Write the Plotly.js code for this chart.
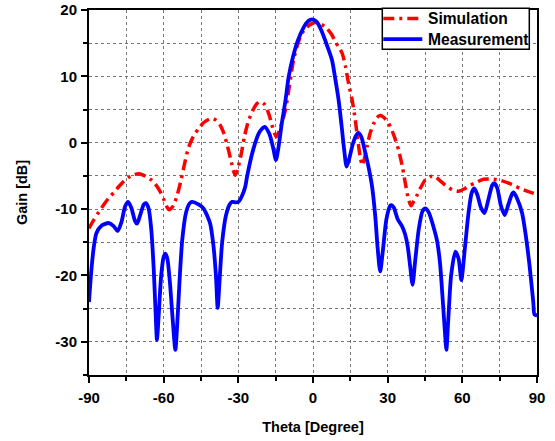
<!DOCTYPE html>
<html>
<head>
<meta charset="utf-8">
<script src="https://cdn.plot.ly/plotly-3.0.1.min.js"></script>
<style>html,body{margin:0;padding:0;background:#fff;}#chart{width:555px;height:441px;}</style>
</head>
<body>
<div id="chart"></div>
<script>
// Simulation (red dash-dot)
const simTheta = [-90,-88,-86,-84,-82,-80,-78,-76,-74,-72,-69.4,-67,-65,-63.4,-61.5,-60,-58.5,-57.8,-57,-56,-54.5,-53,-51.5,-50,-48,-46,-44,-42,-40.6,-39,-37.5,-36,-34.5,-33,-32,-31.2,-30.3,-29,-27.5,-26,-24,-22.5,-21.2,-19.5,-17.8,-16.2,-14.7,-13,-11.1,-9.5,-7.8,-6,-4.4,-2.5,0.9,3.5,5.6,7.5,9,10.5,11.7,13,14.3,15.7,17,18,19,19.8,20.6,21.7,23,24.4,25.7,27,28.5,30.4,32.5,34.4,36,37.1,38.3,39.4,40.5,41.8,43.5,45.1,47,49.1,51,53.2,56,58.5,61,63.2,66,68.5,72.6,75.5,78.6,81,83.3,86,88.4,90];
const simGain = [-12.9,-11.6,-10.4,-9.3,-8.3,-7.5,-6.6,-5.8,-5.2,-4.8,-4.7,-5.1,-5.6,-6.2,-7.3,-8.5,-9.8,-10.1,-9.9,-9.4,-7.8,-5.6,-3,-0.7,1.0,2.1,3.0,3.5,3.7,3.4,2.8,1.6,-0.3,-2.6,-4.2,-4.9,-4,-2,1.0,3.2,5.0,5.9,6.2,5.8,4.4,2.3,0.9,2.4,4.9,8.5,12.5,15,16.5,17.4,18.1,17.8,17.2,16.3,15.2,14.3,13.5,11.6,8.9,6.5,3.4,0.4,-2.2,-3.4,-2.5,-0.6,1.5,2.9,3.8,4.1,3.8,2.9,1.1,-1.1,-3.8,-6.1,-8.4,-9.5,-8.8,-7.9,-6.6,-5.6,-5.1,-5.1,-5.7,-6.4,-7.1,-7.3,-6.9,-6.4,-5.9,-5.5,-5.5,-5.7,-6.1,-6.5,-6.9,-7.3,-7.6,-7.8];

// Measurement (blue solid)
const measTheta = [-90,-89,-88,-87,-85,-82,-80,-78.5,-77,-75.5,-74.3,-73,-71.5,-70.7,-69.5,-68,-67.1,-66,-65,-64,-63.2,-62.7,-62,-61,-60,-59.3,-58.5,-57.5,-56.5,-55.3,-54.5,-53.5,-52.5,-51,-49.5,-48.6,-46,-44,-42.5,-41.3,-40,-39,-38.3,-37.5,-36.5,-35,-33.5,-32.5,-31,-29.9,-28.5,-27.2,-26.5,-24,-21.5,-19.4,-17.5,-16,-14.9,-14,-12.5,-11,-9.8,-8,-6,-4,-2,-0.4,1.5,3.5,5.5,7.6,9,10.3,11.5,12.5,13.5,14.5,16,17.3,18.3,19.5,21,22.5,23.7,25,26,27,28,29.5,31,31.5,32.5,34,35.8,37,38,39,40,41,42.5,44,45.1,46.5,48.5,49.8,51,52,53,53.6,54.3,55.5,57.2,58.5,59.6,61,62.5,63.8,64.8,66,67.5,68.9,70.5,72,72.8,74,75.5,77,78.5,80,80.6,82,84,85.5,87,88.5,89,90];
const measGain = [-24,-19,-15.5,-13.6,-12.5,-12.1,-12.6,-13.3,-12,-9.6,-8.9,-9.8,-11.8,-12.2,-11,-9.3,-9.1,-10,-13,-19,-26,-29.7,-26,-20,-17.2,-16.7,-17.5,-21,-26,-31.2,-27,-20,-14.5,-10.5,-9.1,-8.9,-9.3,-9.9,-11,-12.2,-15.5,-20,-24.9,-20.5,-15,-11,-9.3,-8.9,-9,-8.9,-8,-6.6,-5.1,-1,1.6,2.4,1.3,-0.8,-2.6,-1,3,6.5,9.9,13,15.5,17.2,18.3,18.6,18.2,16.8,14.8,12.5,9.5,6.4,2.5,-1,-3.6,-2.5,-0.2,1.1,1.5,0.8,-1.5,-4,-6.5,-11,-16,-19.4,-16.5,-11.5,-9.5,-9.4,-9.8,-11.5,-12.6,-13.8,-15.5,-18.5,-21.4,-18,-13,-10.3,-9.9,-10.5,-12.8,-14.7,-18,-23,-28.5,-31.2,-27,-20,-16.4,-17.5,-20.7,-16,-10.5,-7.5,-6.9,-7.8,-9.8,-10.6,-8.5,-6.4,-6.1,-6.8,-9.5,-10.9,-9.3,-7.7,-7.5,-8.4,-10.6,-14,-18.5,-24,-25.9,-26];

const xTicks = [-90,-60,-30,0,30,60,90];
const yTicks = [-30,-20,-10,0,10,20];
const seriesNames = ['Simulation', 'Measurement'];
const seriesColors = ['#ff0000', '#0000ff'];
const simDash = '11px,5px,3px,5px';

const fontFam = '"Liberation Sans", Arial, sans-serif';

// page geometry (pixels) of the plot area, used to place the boxed legend
const M = {l: 88.7, r: 18.3, t: 9.7, b: 66.3};
const W = 555, H = 441;
const pw = W - M.l - M.r, ph = H - M.t - M.b;
const px = v => (v - M.l) / pw;
const py = v => (H - M.b - v) / ph;

const traces = [
  {x: simTheta, y: simGain, name: seriesNames[0], type: 'scatter', mode: 'lines',
   line: {color: seriesColors[0], width: 3.5, dash: simDash, shape: 'spline', smoothing: 0.7}},
  {x: measTheta, y: measGain, name: seriesNames[1], type: 'scatter', mode: 'lines',
   line: {color: seriesColors[1], width: 3.8, shape: 'spline', smoothing: 0.7}}
];

const gridStyle = {gridcolor: '#777', gridwidth: 1, griddash: 'dot'};
const legFont = {family: fontFam, size: 15.6, color: '#000', weight: 'bold'};

// Legend box drawn as a framed panel (like the original Origin legend)
const legRows = [18.3, 38.8];
const shapes = [
  {type: 'rect', xref: 'paper', yref: 'paper', layer: 'above',
   x0: px(382), x1: px(529), y0: py(49), y1: py(8),
   fillcolor: '#fff', line: {color: '#000', width: 1.5}}
];
const annotations = [];
seriesNames.forEach((nm, i) => {
  shapes.push({type: 'line', xref: 'paper', yref: 'paper', layer: 'above',
    x0: px(383), x1: px(422), y0: py(legRows[i]), y1: py(legRows[i]),
    line: {color: seriesColors[i], width: i === 0 ? 3.5 : 3.8, dash: i === 0 ? simDash : 'solid'}});
  annotations.push({xref: 'paper', yref: 'paper', x: px(425.5), y: py(legRows[i]),
    xanchor: 'left', yanchor: 'middle', showarrow: false, text: nm, font: legFont});
});

const layout = {
  width: W, height: H,
  margin: M,
  paper_bgcolor: '#fff', plot_bgcolor: '#fff',
  showlegend: false,
  font: {family: fontFam, color: '#000'},
  xaxis: {
    range: [-90, 90], tickvals: xTicks, ticktext: xTicks.map(String),
    showline: true, linecolor: '#000', linewidth: 2, mirror: true,
    ticks: 'outside', ticklen: 6, tickwidth: 2, tickcolor: '#000',
    ticklabelstandoff: 2,
    showgrid: true, ...gridStyle, zeroline: false,
    tickfont: {family: fontFam, size: 15, color: '#000', weight: 'bold'},
    minor: {dtick: 15, tick0: -90, ticks: 'outside', ticklen: 4, tickwidth: 2, tickcolor: '#000', showgrid: true, ...gridStyle},
    title: {text: 'Theta [Degree]', font: {family: fontFam, size: 14.5, color: '#000', weight: 'bold'}, standoff: 17}
  },
  yaxis: {
    range: [-35, 20], tickvals: yTicks, ticktext: yTicks.map(String),
    showline: true, linecolor: '#000', linewidth: 2, mirror: true,
    ticks: 'outside', ticklen: 6, tickwidth: 2, tickcolor: '#000',
    ticklabelstandoff: 1,
    showgrid: true, ...gridStyle, zeroline: false,
    tickfont: {family: fontFam, size: 15, color: '#000', weight: 'bold'},
    minor: {dtick: 5, tick0: -35, ticks: 'outside', ticklen: 4, tickwidth: 2, tickcolor: '#000', showgrid: true, ...gridStyle},
    title: {text: 'Gain [dB]', font: {family: fontFam, size: 14.5, color: '#000', weight: 'bold'}, standoff: 24}
  },
  shapes: shapes,
  annotations: annotations
};

Plotly.newPlot('chart', traces, layout, {staticPlot: true, displayModeBar: false});
</script>
</body>
</html>
